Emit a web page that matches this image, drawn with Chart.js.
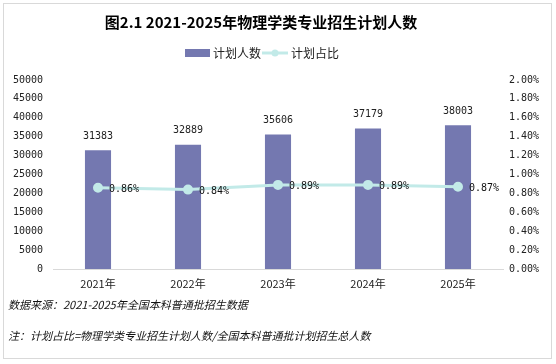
<!DOCTYPE html>
<html>
<head>
<meta charset="utf-8">
<script src="https://cdn.jsdelivr.net/npm/chart.js@4"></script>
<style>
  html, body { margin: 0; padding: 0; background: #fff; }
  #wrap { width: 556px; height: 364px; }
</style>
</head>
<body>
<div id="wrap"><canvas id="chart" width="556" height="364"></canvas></div>
<script>
/* ---- data ---- */
const years     = ['2021年', '2022年', '2023年', '2024年', '2025年'];
const planCount = [31383, 32889, 35606, 37179, 38003];
const planShare = [0.86, 0.84, 0.89, 0.89, 0.87];   // percent
const leftTicks = [0, 5000, 10000, 15000, 20000, 25000, 30000, 35000, 40000, 45000, 50000];

const titleText = '图2.1 2021-2025年物理学类专业招生计划人数';
const sourceText = '数据来源：2021-2025年全国本科普通批招生数据';
const noteText = '注：计划占比=物理学类专业招生计划人数/全国本科普通批计划招生总人数';

const BAR_COLOR  = '#7478b0';
const LINE_COLOR = '#c2eae8';
const CJK = "'Noto Sans CJK SC', sans-serif";
const NUM = "'DejaVu Sans Mono', monospace";

// extra drawing: frame, title, legend, value labels, footnotes
const decor = {
  id: 'decor',
  beforeDraw(chart) {
    const c = chart.ctx;
    c.save();
    c.fillStyle = '#fff';
    c.fillRect(0, 0, chart.width, chart.height);
    c.strokeStyle = '#d9d9d9';
    c.lineWidth = 1;
    c.strokeRect(3.5, 3.5, 548, 355);
    c.restore();
  },
  afterDraw(chart) {
    const c = chart.ctx;
    c.save();
    // title
    c.fillStyle = '#000';
    c.font = "bold 15px " + CJK;
    c.textAlign = 'center';
    c.textBaseline = 'middle';
    c.fillText(titleText, 261, 22);

    // legend
    c.font = "12px " + CJK;
    c.textAlign = 'left';
    c.fillStyle = BAR_COLOR;
    c.fillRect(185, 49, 25, 8);
    c.fillStyle = '#222';
    c.fillText('计划人数', 213, 53);
    c.strokeStyle = LINE_COLOR;
    c.lineWidth = 3;
    c.beginPath(); c.moveTo(262, 53); c.lineTo(288, 53); c.stroke();
    c.fillStyle = LINE_COLOR;
    c.beginPath(); c.arc(275, 53, 3.5, 0, Math.PI * 2); c.fill();
    c.fillStyle = '#222';
    c.fillText('计划占比', 291, 53);

    // bar value labels
    const barMeta = chart.getDatasetMeta(1);
    c.font = "10px " + NUM;
    c.textAlign = 'center';
    c.fillStyle = '#222';
    barMeta.data.forEach((b, i) => {
      c.fillText(String(planCount[i]), b.x, b.y - 14);
    });

    // line value labels
    const lineMeta = chart.getDatasetMeta(0);
    c.textAlign = 'left';
    c.fillStyle = '#111';
    lineMeta.data.forEach((p, i) => {
      c.fillText(planShare[i].toFixed(2) + '%', p.x + 11, p.y + 2);
    });

    // footnotes
    c.font = "italic 11px " + CJK;
    c.fillStyle = '#111';
    c.fillText(sourceText, 8, 305);
    c.fillText(noteText, 8, 336);
    c.restore();
  }
};

new Chart(document.getElementById('chart'), {
  data: {
    labels: years,
    datasets: [
      {
        type: 'line',
        label: '计划占比',
        data: planShare,
        yAxisID: 'y1',
        borderColor: LINE_COLOR,
        backgroundColor: LINE_COLOR,
        borderWidth: 3,
        pointRadius: 3.5,
        pointHoverRadius: 3.5,
        tension: 0,
        order: 0
      },
      {
        type: 'bar',
        label: '计划人数',
        data: planCount,
        yAxisID: 'y',
        backgroundColor: BAR_COLOR,
        categoryPercentage: 0.58,
        barPercentage: 0.5,
        order: 1
      }
    ]
  },
  options: {
    responsive: false,
    animation: false,
    devicePixelRatio: 1,
    layout: { padding: { top: 80, left: 0, right: 0, bottom: 0 } },
    plugins: { legend: { display: false }, title: { display: false }, tooltip: { enabled: false } },
    scales: {
      x: {
        grid: { display: false, drawTicks: false },
        border: { color: '#d9d9d9' },
        ticks: { color: '#222', font: { family: CJK, size: 11 }, padding: 8 },
        afterFit: s => { s.height = 95; }
      },
      y: {
        position: 'left',
        min: 0, max: 50000,
        afterBuildTicks: s => { s.ticks = leftTicks.map(v => ({ value: v })); },
        grid: { display: false, drawTicks: false },
        border: { display: false },
        ticks: { color: '#222', font: { family: NUM, size: 10 }, padding: 10, callback: v => String(v) },
        afterFit: s => { s.width = 53; }
      },
      y1: {
        position: 'right',
        min: 0, max: 2,
        grid: { display: false, drawTicks: false },
        border: { display: false },
        ticks: {
          stepSize: 0.2,
          color: '#222',
          font: { family: NUM, size: 10 },
          padding: 6,
          callback: v => v.toFixed(2) + '%'
        },
        afterFit: s => { s.width = 53; }
      }
    }
  },
  plugins: [decor]
});
</script>
</body>
</html>
